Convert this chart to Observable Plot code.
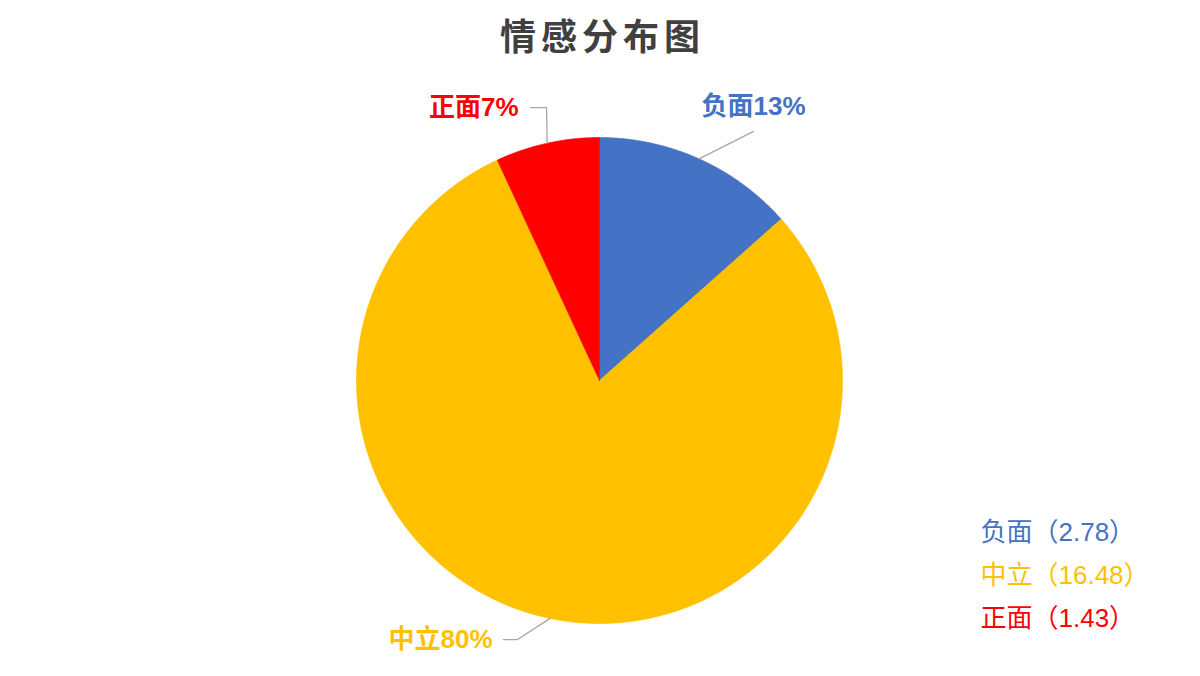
<!DOCTYPE html>
<html>
<head>
<meta charset="utf-8">
<script src="https://cdn.jsdelivr.net/npm/d3@7"></script>
<script src="https://cdn.jsdelivr.net/npm/@observablehq/plot@0.6"></script>
<style>
  html, body { margin: 0; padding: 0; background: #fff; width: 1200px; height: 676px; overflow: hidden; }
  #title { height: 76px; line-height: 76px; text-align: center; font-family: "Liberation Sans", "Noto Sans CJK SC", sans-serif;
           font-weight: bold; font-size: 36px; letter-spacing: 5px; padding-left: 5px; color: #404040; box-sizing: border-box; }
</style>
</head>
<body>
<div id="title">情感分布图</div>
<div id="chart"></div>
<script>
// ---- data ----
const categories = ["负面", "中立", "正面"];
const values = [2.78, 16.48, 1.43];
const colors = ["#4472C4", "#FFC000", "#FF0000"];

// ---- layout (label placement in pie-radius units) ----
const leaderBends = {
  "负面": [[0.634, 1.025]],
  "中立": [[-0.337, -1.066], [-0.395, -1.066]],
  "正面": [[-0.218, 1.123], [-0.284, 1.123]]
};
const labelPos = {
  "负面": {x: 0.42, y: 1.125, anchor: "start"},
  "中立": {x: -0.44, y: -1.066, anchor: "end"},
  "正面": {x: -0.333, y: 1.123, anchor: "end"}
};

const total = d3.sum(values);
const arcs = d3.pie().sort(null).value(d => d)(values);

// slice polygons in unit coordinates (angle measured clockwise from 12 o'clock)
const slicePoints = [];
arcs.forEach((a, i) => {
  const name = categories[i];
  slicePoints.push({name, x: 0, y: 0});
  const steps = Math.max(2, Math.ceil((a.endAngle - a.startAngle) / (Math.PI / 360)));
  for (let k = 0; k <= steps; k++) {
    const t = a.startAngle + (a.endAngle - a.startAngle) * k / steps;
    slicePoints.push({name, x: Math.sin(t), y: Math.cos(t)});
  }
  slicePoints.push({name, x: 0, y: 0});
});

const leaderPoints = [];
const labels = [];
arcs.forEach((a, i) => {
  const name = categories[i];
  const mid = (a.startAngle + a.endAngle) / 2;
  leaderPoints.push({name, x: Math.sin(mid), y: Math.cos(mid)});
  leaderBends[name].forEach(([x, y]) => leaderPoints.push({name, x, y}));
  const p = labelPos[name];
  labels.push({name, x: p.x, y: p.y, anchor: p.anchor, text: `${name}${Math.round(values[i] / total * 100)}%`});
});

const legendItems = categories.map((c, i) => ({name: c, text: `${c}（${values[i].toFixed(2)}）`}));

const font = '"Liberation Sans", "Noto Sans CJK SC", sans-serif';

const chart = Plot.plot({
  width: 1200,
  height: 600,
  margin: 0,
  x: {domain: [-1, 1], range: [356, 842], axis: null},
  y: {domain: [-1, 1], range: [547, 61], axis: null},
  color: {domain: categories, range: colors},
  style: {fontFamily: font, background: "#fff"},
  marks: [
    Plot.line(slicePoints, {x: "x", y: "y", z: "name", fill: "name", stroke: "name", strokeWidth: 0.6, curve: "linear"}),
    Plot.line(leaderPoints, {x: "x", y: "y", z: "name", stroke: "#a6a6a6", strokeWidth: 1.3}),
    Plot.text(labels.filter(d => d.anchor === "start"), {x: "x", y: "y", text: "text", fill: "name", textAnchor: "start",
      fontSize: 26, fontWeight: "bold", lineAnchor: "middle"}),
    Plot.text(labels.filter(d => d.anchor === "end"), {x: "x", y: "y", text: "text", fill: "name", textAnchor: "end",
      fontSize: 26, fontWeight: "bold", lineAnchor: "middle"}),
    ...legendItems.map((d, i) => Plot.text([d], {text: "text", fill: "name", frameAnchor: "top-left",
      dx: 980, dy: 456 + i * 43, textAnchor: "start", lineAnchor: "middle", fontSize: 26}))
  ]
});
document.getElementById("chart").appendChild(chart);
</script>
</body>
</html>
